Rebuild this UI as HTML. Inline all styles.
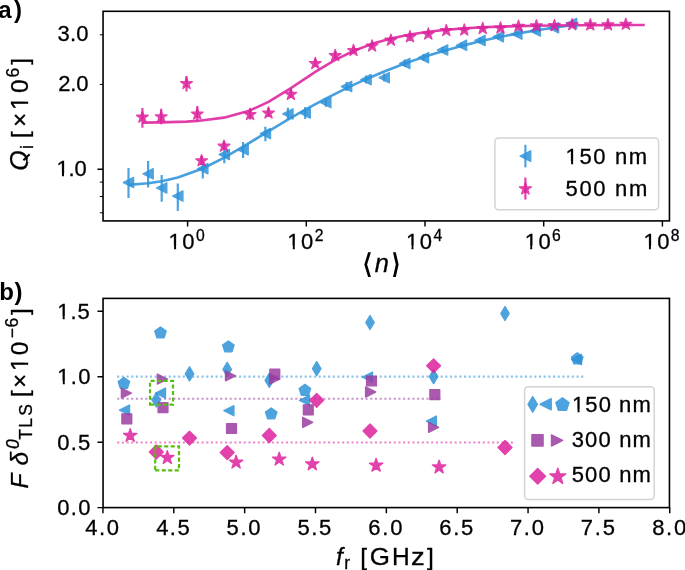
<!DOCTYPE html>
<html><head><meta charset="utf-8"><style>
html,body{margin:0;padding:0;background:#fff;}
svg{display:block;}
</style></head><body><div style="will-change:transform">
<svg width="685" height="570" viewBox="0 0 685 570">
<rect width="685" height="570" fill="#fff"/>
<defs><clipPath id="ca"><rect x="103.05" y="11.3" width="566.4" height="209.6"/></clipPath><clipPath id="cb"><rect x="103.05" y="298.4" width="566.4" height="209.2"/></clipPath></defs>
<g clip-path="url(#ca)">
<path d="M128.5 184.9 L148.1 183.2 L161.7 181.19 L177.8 177.54 L202.8 168.5 L224.3 157.66 L243.1 146.74 L265.4 133.17 L287.9 119.65 L305.2 109.7 L325.8 98.55 L346.6 88.12 L366 79.18 L384.2 71.49 L404.8 63.58 L423.5 57.11 L442.6 51.16 L461.5 45.9 L480 41.3 L498.3 37.26 L516.8 33.63 L535.3 30.44 L553.5 27.67 L571.6 25.25 L576.5 24.65" fill="none" stroke="#2f93d9" stroke-width="2.6" stroke-opacity="0.88" stroke-linejoin="round"/>
<path d="M142.4 122.66 L161.2 122.4 L186.5 121.58 L197.3 120.92 L201.6 120.57 L224 117.65 L250.1 110.41 L268.5 101.86 L290.9 88.1 L315.3 71.83 L335.2 59.93 L353.5 50.96 L372.1 43.84 L390.9 38.44 L410 34.45 L428.3 31.69 L446.3 29.74 L464.3 28.33 L482.7 27.31 L500.5 26.61 L518.5 26.11 L536.4 25.75 L554.4 25.5 L572.2 25.32 L590.3 25.19 L607.9 25.1 L625.8 25.04 L644.8 24.99" fill="none" stroke="#dd229d" stroke-width="2.6" stroke-opacity="0.88" stroke-linejoin="round"/>
<line x1="128.5" y1="168.1" x2="128.5" y2="197.9" stroke="#2f93d9" stroke-width="2.2" stroke-opacity="0.85"/>
<polygon points="123.4,182.5 133.6,177.4 133.6,187.6" fill="#2f93d9" stroke="#2f93d9" stroke-width="1.4" stroke-linejoin="round" opacity="0.85"/>
<line x1="148.1" y1="160.9" x2="148.1" y2="187.4" stroke="#2f93d9" stroke-width="2.2" stroke-opacity="0.85"/>
<polygon points="143,173.8 153.2,168.7 153.2,178.9" fill="#2f93d9" stroke="#2f93d9" stroke-width="1.4" stroke-linejoin="round" opacity="0.85"/>
<line x1="161.7" y1="175.1" x2="161.7" y2="201.7" stroke="#2f93d9" stroke-width="2.2" stroke-opacity="0.85"/>
<polygon points="156.6,187.9 166.8,182.8 166.8,193" fill="#2f93d9" stroke="#2f93d9" stroke-width="1.4" stroke-linejoin="round" opacity="0.85"/>
<line x1="177.8" y1="183.4" x2="177.8" y2="211" stroke="#2f93d9" stroke-width="2.2" stroke-opacity="0.85"/>
<polygon points="172.7,196.1 182.9,191 182.9,201.2" fill="#2f93d9" stroke="#2f93d9" stroke-width="1.4" stroke-linejoin="round" opacity="0.85"/>
<line x1="202.8" y1="162.9" x2="202.8" y2="178.6" stroke="#2f93d9" stroke-width="2.2" stroke-opacity="0.85"/>
<polygon points="197.7,168.7 207.9,163.6 207.9,173.8" fill="#2f93d9" stroke="#2f93d9" stroke-width="1.4" stroke-linejoin="round" opacity="0.85"/>
<line x1="224.3" y1="147.6" x2="224.3" y2="163.3" stroke="#2f93d9" stroke-width="2.2" stroke-opacity="0.85"/>
<polygon points="219.2,154.5 229.4,149.4 229.4,159.6" fill="#2f93d9" stroke="#2f93d9" stroke-width="1.4" stroke-linejoin="round" opacity="0.85"/>
<line x1="243.1" y1="141.9" x2="243.1" y2="158" stroke="#2f93d9" stroke-width="2.2" stroke-opacity="0.85"/>
<polygon points="238,149.8 248.2,144.7 248.2,154.9" fill="#2f93d9" stroke="#2f93d9" stroke-width="1.4" stroke-linejoin="round" opacity="0.85"/>
<line x1="265.4" y1="126.7" x2="265.4" y2="141.3" stroke="#2f93d9" stroke-width="2.2" stroke-opacity="0.85"/>
<polygon points="260.3,133.6 270.5,128.5 270.5,138.7" fill="#2f93d9" stroke="#2f93d9" stroke-width="1.4" stroke-linejoin="round" opacity="0.85"/>
<line x1="287.9" y1="107.7" x2="287.9" y2="120.1" stroke="#2f93d9" stroke-width="2.2" stroke-opacity="0.85"/>
<polygon points="282.8,113.9 293,108.8 293,119" fill="#2f93d9" stroke="#2f93d9" stroke-width="1.4" stroke-linejoin="round" opacity="0.85"/>
<line x1="305.2" y1="107" x2="305.2" y2="119" stroke="#2f93d9" stroke-width="2.2" stroke-opacity="0.85"/>
<polygon points="300.1,113 310.3,107.9 310.3,118.1" fill="#2f93d9" stroke="#2f93d9" stroke-width="1.4" stroke-linejoin="round" opacity="0.85"/>
<line x1="325.8" y1="98.2" x2="325.8" y2="106.7" stroke="#2f93d9" stroke-width="2.2" stroke-opacity="0.85"/>
<polygon points="320.7,102.6 330.9,97.5 330.9,107.7" fill="#2f93d9" stroke="#2f93d9" stroke-width="1.4" stroke-linejoin="round" opacity="0.85"/>
<line x1="346.6" y1="82" x2="346.6" y2="91" stroke="#2f93d9" stroke-width="2.2" stroke-opacity="0.85"/>
<polygon points="341.5,86.5 351.7,81.4 351.7,91.6" fill="#2f93d9" stroke="#2f93d9" stroke-width="1.4" stroke-linejoin="round" opacity="0.85"/>
<line x1="366" y1="75.5" x2="366" y2="83.5" stroke="#2f93d9" stroke-width="2.2" stroke-opacity="0.85"/>
<polygon points="360.9,79.6 371.1,74.5 371.1,84.7" fill="#2f93d9" stroke="#2f93d9" stroke-width="1.4" stroke-linejoin="round" opacity="0.85"/>
<line x1="384.2" y1="73.5" x2="384.2" y2="81.5" stroke="#2f93d9" stroke-width="2.2" stroke-opacity="0.85"/>
<polygon points="379.1,77.7 389.3,72.6 389.3,82.8" fill="#2f93d9" stroke="#2f93d9" stroke-width="1.4" stroke-linejoin="round" opacity="0.85"/>
<line x1="404.8" y1="59.5" x2="404.8" y2="67" stroke="#2f93d9" stroke-width="2.2" stroke-opacity="0.85"/>
<polygon points="399.7,63.4 409.9,58.3 409.9,68.5" fill="#2f93d9" stroke="#2f93d9" stroke-width="1.4" stroke-linejoin="round" opacity="0.85"/>
<line x1="423.5" y1="54" x2="423.5" y2="61" stroke="#2f93d9" stroke-width="2.2" stroke-opacity="0.85"/>
<polygon points="418.4,57.7 428.6,52.6 428.6,62.8" fill="#2f93d9" stroke="#2f93d9" stroke-width="1.4" stroke-linejoin="round" opacity="0.85"/>
<line x1="442.6" y1="47" x2="442.6" y2="53" stroke="#2f93d9" stroke-width="2.2" stroke-opacity="0.85"/>
<polygon points="437.5,50 447.7,44.9 447.7,55.1" fill="#2f93d9" stroke="#2f93d9" stroke-width="1.4" stroke-linejoin="round" opacity="0.85"/>
<line x1="461.5" y1="42.5" x2="461.5" y2="48" stroke="#2f93d9" stroke-width="2.2" stroke-opacity="0.85"/>
<polygon points="456.4,45.3 466.6,40.2 466.6,50.4" fill="#2f93d9" stroke="#2f93d9" stroke-width="1.4" stroke-linejoin="round" opacity="0.85"/>
<line x1="480" y1="37.5" x2="480" y2="43.5" stroke="#2f93d9" stroke-width="2.2" stroke-opacity="0.85"/>
<polygon points="474.9,40.5 485.1,35.4 485.1,45.6" fill="#2f93d9" stroke="#2f93d9" stroke-width="1.4" stroke-linejoin="round" opacity="0.85"/>
<line x1="498.3" y1="34" x2="498.3" y2="39.5" stroke="#2f93d9" stroke-width="2.2" stroke-opacity="0.85"/>
<polygon points="493.2,36.7 503.4,31.6 503.4,41.8" fill="#2f93d9" stroke="#2f93d9" stroke-width="1.4" stroke-linejoin="round" opacity="0.85"/>
<line x1="516.8" y1="31.5" x2="516.8" y2="36.5" stroke="#2f93d9" stroke-width="2.2" stroke-opacity="0.85"/>
<polygon points="511.7,34.1 521.9,29 521.9,39.2" fill="#2f93d9" stroke="#2f93d9" stroke-width="1.4" stroke-linejoin="round" opacity="0.85"/>
<line x1="535.3" y1="28.5" x2="535.3" y2="33.5" stroke="#2f93d9" stroke-width="2.2" stroke-opacity="0.85"/>
<polygon points="530.2,31 540.4,25.9 540.4,36.1" fill="#2f93d9" stroke="#2f93d9" stroke-width="1.4" stroke-linejoin="round" opacity="0.85"/>
<line x1="553.5" y1="25.5" x2="553.5" y2="30" stroke="#2f93d9" stroke-width="2.2" stroke-opacity="0.85"/>
<polygon points="548.4,27.8 558.6,22.7 558.6,32.9" fill="#2f93d9" stroke="#2f93d9" stroke-width="1.4" stroke-linejoin="round" opacity="0.85"/>
<line x1="571.6" y1="21.5" x2="571.6" y2="25.5" stroke="#2f93d9" stroke-width="2.2" stroke-opacity="0.85"/>
<polygon points="566.5,23.5 576.7,18.4 576.7,28.6" fill="#2f93d9" stroke="#2f93d9" stroke-width="1.4" stroke-linejoin="round" opacity="0.85"/>
<line x1="142.4" y1="108" x2="142.4" y2="127.8" stroke="#dd229d" stroke-width="2.2" stroke-opacity="0.85"/>
<polygon points="142.4,111.1 141.03,115.31 136.6,115.31 140.18,117.92 138.81,122.14 142.4,119.53 145.99,122.14 144.62,117.92 148.2,115.31 143.77,115.31" fill="#dd229d" stroke="#dd229d" stroke-width="1.4" stroke-linejoin="round" opacity="0.85"/>
<line x1="161.2" y1="108.8" x2="161.2" y2="124.3" stroke="#dd229d" stroke-width="2.2" stroke-opacity="0.85"/>
<polygon points="161.2,110.7 159.83,114.91 155.4,114.91 158.98,117.52 157.61,121.74 161.2,119.13 164.79,121.74 163.42,117.52 167,114.91 162.57,114.91" fill="#dd229d" stroke="#dd229d" stroke-width="1.4" stroke-linejoin="round" opacity="0.85"/>
<line x1="186.5" y1="75.9" x2="186.5" y2="91.5" stroke="#dd229d" stroke-width="2.2" stroke-opacity="0.85"/>
<polygon points="186.5,77.5 185.13,81.71 180.7,81.71 184.28,84.32 182.91,88.54 186.5,85.93 190.09,88.54 188.72,84.32 192.3,81.71 187.87,81.71" fill="#dd229d" stroke="#dd229d" stroke-width="1.4" stroke-linejoin="round" opacity="0.85"/>
<line x1="197.3" y1="106" x2="197.3" y2="120.7" stroke="#dd229d" stroke-width="2.2" stroke-opacity="0.85"/>
<polygon points="197.3,108 195.93,112.21 191.5,112.21 195.08,114.82 193.71,119.04 197.3,116.43 200.89,119.04 199.52,114.82 203.1,112.21 198.67,112.21" fill="#dd229d" stroke="#dd229d" stroke-width="1.4" stroke-linejoin="round" opacity="0.85"/>
<line x1="201.6" y1="156" x2="201.6" y2="164.5" stroke="#dd229d" stroke-width="2.2" stroke-opacity="0.85"/>
<polygon points="201.6,154.7 200.23,158.91 195.8,158.91 199.38,161.52 198.01,165.74 201.6,163.13 205.19,165.74 203.82,161.52 207.4,158.91 202.97,158.91" fill="#dd229d" stroke="#dd229d" stroke-width="1.4" stroke-linejoin="round" opacity="0.85"/>
<line x1="224" y1="141.5" x2="224" y2="149.5" stroke="#dd229d" stroke-width="2.2" stroke-opacity="0.85"/>
<polygon points="224,140.1 222.63,144.31 218.2,144.31 221.78,146.92 220.41,151.14 224,148.53 227.59,151.14 226.22,146.92 229.8,144.31 225.37,144.31" fill="#dd229d" stroke="#dd229d" stroke-width="1.4" stroke-linejoin="round" opacity="0.85"/>
<line x1="250.1" y1="108.5" x2="250.1" y2="119.5" stroke="#dd229d" stroke-width="2.2" stroke-opacity="0.85"/>
<polygon points="250.1,108.5 248.73,112.71 244.3,112.71 247.88,115.32 246.51,119.54 250.1,116.93 253.69,119.54 252.32,115.32 255.9,112.71 251.47,112.71" fill="#dd229d" stroke="#dd229d" stroke-width="1.4" stroke-linejoin="round" opacity="0.85"/>
<line x1="268.5" y1="108" x2="268.5" y2="117" stroke="#dd229d" stroke-width="2.2" stroke-opacity="0.85"/>
<polygon points="268.5,107 267.13,111.21 262.7,111.21 266.28,113.82 264.91,118.04 268.5,115.43 272.09,118.04 270.72,113.82 274.3,111.21 269.87,111.21" fill="#dd229d" stroke="#dd229d" stroke-width="1.4" stroke-linejoin="round" opacity="0.85"/>
<line x1="290.9" y1="89.5" x2="290.9" y2="98" stroke="#dd229d" stroke-width="2.2" stroke-opacity="0.85"/>
<polygon points="290.9,88.3 289.53,92.51 285.1,92.51 288.68,95.12 287.31,99.34 290.9,96.73 294.49,99.34 293.12,95.12 296.7,92.51 292.27,92.51" fill="#dd229d" stroke="#dd229d" stroke-width="1.4" stroke-linejoin="round" opacity="0.85"/>
<line x1="315.3" y1="59" x2="315.3" y2="66.5" stroke="#dd229d" stroke-width="2.2" stroke-opacity="0.85"/>
<polygon points="315.3,57.4 313.93,61.61 309.5,61.61 313.08,64.22 311.71,68.44 315.3,65.83 318.89,68.44 317.52,64.22 321.1,61.61 316.67,61.61" fill="#dd229d" stroke="#dd229d" stroke-width="1.4" stroke-linejoin="round" opacity="0.85"/>
<line x1="335.2" y1="51.5" x2="335.2" y2="58.5" stroke="#dd229d" stroke-width="2.2" stroke-opacity="0.85"/>
<polygon points="335.2,49.5 333.83,53.71 329.4,53.71 332.98,56.32 331.61,60.54 335.2,57.93 338.79,60.54 337.42,56.32 341,53.71 336.57,53.71" fill="#dd229d" stroke="#dd229d" stroke-width="1.4" stroke-linejoin="round" opacity="0.85"/>
<line x1="353.5" y1="47" x2="353.5" y2="53" stroke="#dd229d" stroke-width="2.2" stroke-opacity="0.85"/>
<polygon points="353.5,44.4 352.13,48.61 347.7,48.61 351.28,51.22 349.91,55.44 353.5,52.83 357.09,55.44 355.72,51.22 359.3,48.61 354.87,48.61" fill="#dd229d" stroke="#dd229d" stroke-width="1.4" stroke-linejoin="round" opacity="0.85"/>
<line x1="372.1" y1="42.5" x2="372.1" y2="48" stroke="#dd229d" stroke-width="2.2" stroke-opacity="0.85"/>
<polygon points="372.1,39.9 370.73,44.11 366.3,44.11 369.88,46.72 368.51,50.94 372.1,48.33 375.69,50.94 374.32,46.72 377.9,44.11 373.47,44.11" fill="#dd229d" stroke="#dd229d" stroke-width="1.4" stroke-linejoin="round" opacity="0.85"/>
<line x1="390.9" y1="37" x2="390.9" y2="42" stroke="#dd229d" stroke-width="2.2" stroke-opacity="0.85"/>
<polygon points="390.9,34.1 389.53,38.31 385.1,38.31 388.68,40.92 387.31,45.14 390.9,42.53 394.49,45.14 393.12,40.92 396.7,38.31 392.27,38.31" fill="#dd229d" stroke="#dd229d" stroke-width="1.4" stroke-linejoin="round" opacity="0.85"/>
<line x1="410" y1="34" x2="410" y2="38.5" stroke="#dd229d" stroke-width="2.2" stroke-opacity="0.85"/>
<polygon points="410,30.7 408.63,34.91 404.2,34.91 407.78,37.52 406.41,41.74 410,39.13 413.59,41.74 412.22,37.52 415.8,34.91 411.37,34.91" fill="#dd229d" stroke="#dd229d" stroke-width="1.4" stroke-linejoin="round" opacity="0.85"/>
<line x1="428.3" y1="31.5" x2="428.3" y2="35.5" stroke="#dd229d" stroke-width="2.2" stroke-opacity="0.85"/>
<polygon points="428.3,28 426.93,32.21 422.5,32.21 426.08,34.82 424.71,39.04 428.3,36.43 431.89,39.04 430.52,34.82 434.1,32.21 429.67,32.21" fill="#dd229d" stroke="#dd229d" stroke-width="1.4" stroke-linejoin="round" opacity="0.85"/>
<line x1="446.3" y1="28" x2="446.3" y2="32" stroke="#dd229d" stroke-width="2.2" stroke-opacity="0.85"/>
<polygon points="446.3,24.5 444.93,28.71 440.5,28.71 444.08,31.32 442.71,35.54 446.3,32.93 449.89,35.54 448.52,31.32 452.1,28.71 447.67,28.71" fill="#dd229d" stroke="#dd229d" stroke-width="1.4" stroke-linejoin="round" opacity="0.85"/>
<line x1="464.3" y1="27.5" x2="464.3" y2="31.5" stroke="#dd229d" stroke-width="2.2" stroke-opacity="0.85"/>
<polygon points="464.3,23.9 462.93,28.11 458.5,28.11 462.08,30.72 460.71,34.94 464.3,32.33 467.89,34.94 466.52,30.72 470.1,28.11 465.67,28.11" fill="#dd229d" stroke="#dd229d" stroke-width="1.4" stroke-linejoin="round" opacity="0.85"/>
<line x1="482.7" y1="26" x2="482.7" y2="30" stroke="#dd229d" stroke-width="2.2" stroke-opacity="0.85"/>
<polygon points="482.7,22.5 481.33,26.71 476.9,26.71 480.48,29.32 479.11,33.54 482.7,30.93 486.29,33.54 484.92,29.32 488.5,26.71 484.07,26.71" fill="#dd229d" stroke="#dd229d" stroke-width="1.4" stroke-linejoin="round" opacity="0.85"/>
<line x1="500.5" y1="25.5" x2="500.5" y2="29.5" stroke="#dd229d" stroke-width="2.2" stroke-opacity="0.85"/>
<polygon points="500.5,21.9 499.13,26.11 494.7,26.11 498.28,28.72 496.91,32.94 500.5,30.33 504.09,32.94 502.72,28.72 506.3,26.11 501.87,26.11" fill="#dd229d" stroke="#dd229d" stroke-width="1.4" stroke-linejoin="round" opacity="0.85"/>
<line x1="518.5" y1="24" x2="518.5" y2="27.5" stroke="#dd229d" stroke-width="2.2" stroke-opacity="0.85"/>
<polygon points="518.5,20.2 517.13,24.41 512.7,24.41 516.28,27.02 514.91,31.24 518.5,28.63 522.09,31.24 520.72,27.02 524.3,24.41 519.87,24.41" fill="#dd229d" stroke="#dd229d" stroke-width="1.4" stroke-linejoin="round" opacity="0.85"/>
<line x1="536.4" y1="23.5" x2="536.4" y2="27" stroke="#dd229d" stroke-width="2.2" stroke-opacity="0.85"/>
<polygon points="536.4,19.8 535.03,24.01 530.6,24.01 534.18,26.62 532.81,30.84 536.4,28.23 539.99,30.84 538.62,26.62 542.2,24.01 537.77,24.01" fill="#dd229d" stroke="#dd229d" stroke-width="1.4" stroke-linejoin="round" opacity="0.85"/>
<line x1="554.4" y1="23.5" x2="554.4" y2="27" stroke="#dd229d" stroke-width="2.2" stroke-opacity="0.85"/>
<polygon points="554.4,19.6 553.03,23.81 548.6,23.81 552.18,26.42 550.81,30.64 554.4,28.03 557.99,30.64 556.62,26.42 560.2,23.81 555.77,23.81" fill="#dd229d" stroke="#dd229d" stroke-width="1.4" stroke-linejoin="round" opacity="0.85"/>
<line x1="572.2" y1="22.5" x2="572.2" y2="26" stroke="#dd229d" stroke-width="2.2" stroke-opacity="0.85"/>
<polygon points="572.2,18.6 570.83,22.81 566.4,22.81 569.98,25.42 568.61,29.64 572.2,27.03 575.79,29.64 574.42,25.42 578,22.81 573.57,22.81" fill="#dd229d" stroke="#dd229d" stroke-width="1.4" stroke-linejoin="round" opacity="0.85"/>
<line x1="590.3" y1="22.5" x2="590.3" y2="26" stroke="#dd229d" stroke-width="2.2" stroke-opacity="0.85"/>
<polygon points="590.3,18.8 588.93,23.01 584.5,23.01 588.08,25.62 586.71,29.84 590.3,27.23 593.89,29.84 592.52,25.62 596.1,23.01 591.67,23.01" fill="#dd229d" stroke="#dd229d" stroke-width="1.4" stroke-linejoin="round" opacity="0.85"/>
<line x1="607.9" y1="22.5" x2="607.9" y2="26" stroke="#dd229d" stroke-width="2.2" stroke-opacity="0.85"/>
<polygon points="607.9,18.7 606.53,22.91 602.1,22.91 605.68,25.52 604.31,29.74 607.9,27.13 611.49,29.74 610.12,25.52 613.7,22.91 609.27,22.91" fill="#dd229d" stroke="#dd229d" stroke-width="1.4" stroke-linejoin="round" opacity="0.85"/>
<line x1="625.8" y1="22" x2="625.8" y2="25.5" stroke="#dd229d" stroke-width="2.2" stroke-opacity="0.85"/>
<polygon points="625.8,18.2 624.43,22.41 620,22.41 623.58,25.02 622.21,29.24 625.8,26.63 629.39,29.24 628.02,25.02 631.6,22.41 627.17,22.41" fill="#dd229d" stroke="#dd229d" stroke-width="1.4" stroke-linejoin="round" opacity="0.85"/>
</g>
<rect x="494.9" y="138.1" width="163.7" height="71.6" rx="3.6" ry="3.6" fill="#fff" fill-opacity="0.8" stroke="#d4d4d4" stroke-width="1.5"/>
<line x1="525.4" y1="144.8" x2="525.4" y2="167.4" stroke="#2f93d9" stroke-width="2.2" stroke-opacity="0.85"/>
<polygon points="520.1,156.1 530.7,150.8 530.7,161.4" fill="#2f93d9" stroke="#2f93d9" stroke-width="1.4" stroke-linejoin="round" opacity="0.85"/>
<line x1="525.4" y1="177.5" x2="525.4" y2="199.6" stroke="#dd229d" stroke-width="2.2" stroke-opacity="0.85"/>
<polygon points="525.4,182.5 523.99,186.85 519.41,186.85 523.11,189.54 521.7,193.9 525.4,191.21 529.1,193.9 527.69,189.54 531.39,186.85 526.81,186.85" fill="#dd229d" stroke="#dd229d" stroke-width="1.4" stroke-linejoin="round" opacity="0.85"/>
<rect x="103.05" y="11.3" width="566.4" height="209.6" fill="none" stroke="#000" stroke-width="1.6"/>
<path d="M187.6 220.9 V226.5 M306.3 220.9 V226.5 M425 220.9 V226.5 M543.7 220.9 V226.5 M662.4 220.9 V226.5 M103.05 169.2 H97.45" stroke="#000" stroke-width="1.45" fill="none"/>
<path d="M103.05 212.84 H99.85 M103.05 196.5 H99.85 M103.05 182.09 H99.85 M103.05 84.4 H99.85 M103.05 34.79 H99.85" stroke="#000" stroke-width="1.0" fill="none"/>
<g clip-path="url(#cb)">
<line x1="117.15" y1="376.65" x2="583.5" y2="376.65" stroke="#2f93d9" stroke-width="2.1" stroke-dasharray="2.1 2.587" stroke-opacity="0.55"/>
<line x1="117.15" y1="398.8" x2="441" y2="398.8" stroke="#9b3da0" stroke-width="2.1" stroke-dasharray="2.1 2.587" stroke-opacity="0.55"/>
<line x1="117.15" y1="442.5" x2="513.5" y2="442.5" stroke="#dd229d" stroke-width="2.1" stroke-dasharray="2.1 2.587" stroke-opacity="0.55"/>
<polygon points="156.3,392.9 160.5,399.9 156.3,406.9 152.1,399.9" fill="#2f93d9" stroke="#2f93d9" stroke-width="1.4" stroke-linejoin="round" opacity="0.85"/>
<polygon points="189.5,366.8 193.7,373.8 189.5,380.8 185.3,373.8" fill="#2f93d9" stroke="#2f93d9" stroke-width="1.4" stroke-linejoin="round" opacity="0.85"/>
<polygon points="227.2,362.4 231.4,369.4 227.2,376.4 223,369.4" fill="#2f93d9" stroke="#2f93d9" stroke-width="1.4" stroke-linejoin="round" opacity="0.85"/>
<polygon points="269.3,373.3 273.5,380.3 269.3,387.3 265.1,380.3" fill="#2f93d9" stroke="#2f93d9" stroke-width="1.4" stroke-linejoin="round" opacity="0.85"/>
<polygon points="316.7,361.7 320.9,368.7 316.7,375.7 312.5,368.7" fill="#2f93d9" stroke="#2f93d9" stroke-width="1.4" stroke-linejoin="round" opacity="0.85"/>
<polygon points="370,315.5 374.2,322.5 370,329.5 365.8,322.5" fill="#2f93d9" stroke="#2f93d9" stroke-width="1.4" stroke-linejoin="round" opacity="0.85"/>
<polygon points="433.6,369.6 437.8,376.6 433.6,383.6 429.4,376.6" fill="#2f93d9" stroke="#2f93d9" stroke-width="1.4" stroke-linejoin="round" opacity="0.85"/>
<polygon points="505,306.5 509.2,313.5 505,320.5 500.8,313.5" fill="#2f93d9" stroke="#2f93d9" stroke-width="1.4" stroke-linejoin="round" opacity="0.85"/>
<polygon points="119.5,410.1 129.5,405.1 129.5,415.1" fill="#2f93d9" stroke="#2f93d9" stroke-width="1.4" stroke-linejoin="round" opacity="0.85"/>
<polygon points="155.5,393.1 165.5,388.1 165.5,398.1" fill="#2f93d9" stroke="#2f93d9" stroke-width="1.4" stroke-linejoin="round" opacity="0.85"/>
<polygon points="223.9,410.7 233.9,405.7 233.9,415.7" fill="#2f93d9" stroke="#2f93d9" stroke-width="1.4" stroke-linejoin="round" opacity="0.85"/>
<polygon points="299.5,400.3 309.5,395.3 309.5,405.3" fill="#2f93d9" stroke="#2f93d9" stroke-width="1.4" stroke-linejoin="round" opacity="0.85"/>
<polygon points="362.5,377.2 372.5,372.2 372.5,382.2" fill="#2f93d9" stroke="#2f93d9" stroke-width="1.4" stroke-linejoin="round" opacity="0.85"/>
<polygon points="426.4,421.1 436.4,416.1 436.4,426.1" fill="#2f93d9" stroke="#2f93d9" stroke-width="1.4" stroke-linejoin="round" opacity="0.85"/>
<polygon points="571.5,359.5 581.5,354.5 581.5,364.5" fill="#2f93d9" stroke="#2f93d9" stroke-width="1.4" stroke-linejoin="round" opacity="0.85"/>
<polygon points="123.9,377.5 118.19,381.65 120.37,388.35 127.43,388.35 129.61,381.65" fill="#2f93d9" stroke="#2f93d9" stroke-width="1.4" stroke-linejoin="round" opacity="0.85"/>
<polygon points="160.5,327 154.79,331.15 156.97,337.85 164.03,337.85 166.21,331.15" fill="#2f93d9" stroke="#2f93d9" stroke-width="1.4" stroke-linejoin="round" opacity="0.85"/>
<polygon points="228.4,341 222.69,345.15 224.87,351.85 231.93,351.85 234.11,345.15" fill="#2f93d9" stroke="#2f93d9" stroke-width="1.4" stroke-linejoin="round" opacity="0.85"/>
<polygon points="271.2,408 265.49,412.15 267.67,418.85 274.73,418.85 276.91,412.15" fill="#2f93d9" stroke="#2f93d9" stroke-width="1.4" stroke-linejoin="round" opacity="0.85"/>
<polygon points="304.9,384.4 299.19,388.55 301.37,395.25 308.43,395.25 310.61,388.55" fill="#2f93d9" stroke="#2f93d9" stroke-width="1.4" stroke-linejoin="round" opacity="0.85"/>
<polygon points="577.3,352.9 571.59,357.05 573.77,363.75 580.83,363.75 583.01,357.05" fill="#2f93d9" stroke="#2f93d9" stroke-width="1.4" stroke-linejoin="round" opacity="0.85"/>
<polygon points="121.9,413.9 131.7,413.9 131.7,423.7 121.9,423.7" fill="#9b3da0" stroke="#9b3da0" stroke-width="1.4" stroke-linejoin="round" opacity="0.85"/>
<polygon points="158.1,402.7 167.9,402.7 167.9,412.5 158.1,412.5" fill="#9b3da0" stroke="#9b3da0" stroke-width="1.4" stroke-linejoin="round" opacity="0.85"/>
<polygon points="226.6,423.6 236.4,423.6 236.4,433.4 226.6,433.4" fill="#9b3da0" stroke="#9b3da0" stroke-width="1.4" stroke-linejoin="round" opacity="0.85"/>
<polygon points="269.9,369.3 279.7,369.3 279.7,379.1 269.9,379.1" fill="#9b3da0" stroke="#9b3da0" stroke-width="1.4" stroke-linejoin="round" opacity="0.85"/>
<polygon points="303.4,404.9 313.2,404.9 313.2,414.7 303.4,414.7" fill="#9b3da0" stroke="#9b3da0" stroke-width="1.4" stroke-linejoin="round" opacity="0.85"/>
<polygon points="366.6,376.1 376.4,376.1 376.4,385.9 366.6,385.9" fill="#9b3da0" stroke="#9b3da0" stroke-width="1.4" stroke-linejoin="round" opacity="0.85"/>
<polygon points="429.9,389.8 439.7,389.8 439.7,399.6 429.9,399.6" fill="#9b3da0" stroke="#9b3da0" stroke-width="1.4" stroke-linejoin="round" opacity="0.85"/>
<polygon points="131.4,393.1 121.4,388.1 121.4,398.1" fill="#9b3da0" stroke="#9b3da0" stroke-width="1.4" stroke-linejoin="round" opacity="0.85"/>
<polygon points="167.4,379.1 157.4,374.1 157.4,384.1" fill="#9b3da0" stroke="#9b3da0" stroke-width="1.4" stroke-linejoin="round" opacity="0.85"/>
<polygon points="235.5,375.8 225.5,370.8 225.5,380.8" fill="#9b3da0" stroke="#9b3da0" stroke-width="1.4" stroke-linejoin="round" opacity="0.85"/>
<polygon points="279.6,379 269.6,374 269.6,384" fill="#9b3da0" stroke="#9b3da0" stroke-width="1.4" stroke-linejoin="round" opacity="0.85"/>
<polygon points="312.7,422.4 302.7,417.4 302.7,427.4" fill="#9b3da0" stroke="#9b3da0" stroke-width="1.4" stroke-linejoin="round" opacity="0.85"/>
<polygon points="375.6,392 365.6,387 365.6,397" fill="#9b3da0" stroke="#9b3da0" stroke-width="1.4" stroke-linejoin="round" opacity="0.85"/>
<polygon points="438.6,427.3 428.6,422.3 428.6,432.3" fill="#9b3da0" stroke="#9b3da0" stroke-width="1.4" stroke-linejoin="round" opacity="0.85"/>
<polygon points="156.3,445.1 163.2,452 156.3,458.9 149.4,452" fill="#dd229d" stroke="#dd229d" stroke-width="1.4" stroke-linejoin="round" opacity="0.85"/>
<polygon points="189.5,431.2 196.4,438.1 189.5,445 182.6,438.1" fill="#dd229d" stroke="#dd229d" stroke-width="1.4" stroke-linejoin="round" opacity="0.85"/>
<polygon points="227.2,445.7 234.1,452.6 227.2,459.5 220.3,452.6" fill="#dd229d" stroke="#dd229d" stroke-width="1.4" stroke-linejoin="round" opacity="0.85"/>
<polygon points="269.3,428.6 276.2,435.5 269.3,442.4 262.4,435.5" fill="#dd229d" stroke="#dd229d" stroke-width="1.4" stroke-linejoin="round" opacity="0.85"/>
<polygon points="316.7,393.4 323.6,400.3 316.7,407.2 309.8,400.3" fill="#dd229d" stroke="#dd229d" stroke-width="1.4" stroke-linejoin="round" opacity="0.85"/>
<polygon points="370,424.1 376.9,431 370,437.9 363.1,431" fill="#dd229d" stroke="#dd229d" stroke-width="1.4" stroke-linejoin="round" opacity="0.85"/>
<polygon points="433.6,358.9 440.5,365.8 433.6,372.7 426.7,365.8" fill="#dd229d" stroke="#dd229d" stroke-width="1.4" stroke-linejoin="round" opacity="0.85"/>
<polygon points="505,440.6 511.9,447.5 505,454.4 498.1,447.5" fill="#dd229d" stroke="#dd229d" stroke-width="1.4" stroke-linejoin="round" opacity="0.85"/>
<polygon points="130.2,428.6 128.63,433.44 123.54,433.44 127.66,436.43 126.09,441.26 130.2,438.27 134.31,441.26 132.74,436.43 136.86,433.44 131.77,433.44" fill="#dd229d" stroke="#dd229d" stroke-width="1.4" stroke-linejoin="round" opacity="0.85"/>
<polygon points="167.3,450.7 165.73,455.54 160.64,455.54 164.76,458.53 163.19,463.36 167.3,460.37 171.41,463.36 169.84,458.53 173.96,455.54 168.87,455.54" fill="#dd229d" stroke="#dd229d" stroke-width="1.4" stroke-linejoin="round" opacity="0.85"/>
<polygon points="236.1,455.3 234.53,460.14 229.44,460.14 233.56,463.13 231.99,467.96 236.1,464.97 240.21,467.96 238.64,463.13 242.76,460.14 237.67,460.14" fill="#dd229d" stroke="#dd229d" stroke-width="1.4" stroke-linejoin="round" opacity="0.85"/>
<polygon points="279.2,452.3 277.63,457.14 272.54,457.14 276.66,460.13 275.09,464.96 279.2,461.97 283.31,464.96 281.74,460.13 285.86,457.14 280.77,457.14" fill="#dd229d" stroke="#dd229d" stroke-width="1.4" stroke-linejoin="round" opacity="0.85"/>
<polygon points="312.3,457.1 310.73,461.94 305.64,461.94 309.76,464.93 308.19,469.76 312.3,466.77 316.41,469.76 314.84,464.93 318.96,461.94 313.87,461.94" fill="#dd229d" stroke="#dd229d" stroke-width="1.4" stroke-linejoin="round" opacity="0.85"/>
<polygon points="376.1,458.4 374.53,463.24 369.44,463.24 373.56,466.23 371.99,471.06 376.1,468.07 380.21,471.06 378.64,466.23 382.76,463.24 377.67,463.24" fill="#dd229d" stroke="#dd229d" stroke-width="1.4" stroke-linejoin="round" opacity="0.85"/>
<polygon points="439.1,460.2 437.53,465.04 432.44,465.04 436.56,468.03 434.99,472.86 439.1,469.87 443.21,472.86 441.64,468.03 445.76,465.04 440.67,465.04" fill="#dd229d" stroke="#dd229d" stroke-width="1.4" stroke-linejoin="round" opacity="0.85"/>
<path d="M150 404.6 H173 V380.9 H150 Z" fill="none" stroke="#55c010" stroke-width="2.2" stroke-dasharray="4.1 2.4"/>
<path d="M155.2 470.4 H179 V446.4 H155.2 Z" fill="none" stroke="#55c010" stroke-width="2.2" stroke-dasharray="4.1 2.4"/>
</g>
<rect x="524.6" y="386.7" width="129.6" height="112.7" rx="3.6" ry="3.6" fill="#fff" fill-opacity="0.8" stroke="#d4d4d4" stroke-width="1.5"/>
<polygon points="532.7,396.6 537.4,404.4 532.7,412.2 528,404.4" fill="#2f93d9" stroke="#2f93d9" stroke-width="1.4" stroke-linejoin="round" opacity="0.85"/>
<polygon points="540.1,404.25 551.2,398.7 551.2,409.8" fill="#2f93d9" stroke="#2f93d9" stroke-width="1.4" stroke-linejoin="round" opacity="0.85"/>
<polygon points="562.45,397.7 555.89,402.47 558.39,410.18 566.51,410.18 569.01,402.47" fill="#2f93d9" stroke="#2f93d9" stroke-width="1.4" stroke-linejoin="round" opacity="0.85"/>
<polygon points="531.9,434.8 543.1,434.8 543.1,446 531.9,446" fill="#9b3da0" stroke="#9b3da0" stroke-width="1.4" stroke-linejoin="round" opacity="0.85"/>
<polygon points="562.6,440.45 551.5,434.9 551.5,446" fill="#9b3da0" stroke="#9b3da0" stroke-width="1.4" stroke-linejoin="round" opacity="0.85"/>
<polygon points="537.7,468.5 545.5,476.3 537.7,484.1 529.9,476.3" fill="#dd229d" stroke="#dd229d" stroke-width="1.4" stroke-linejoin="round" opacity="0.85"/>
<polygon points="557.8,468.2 555.91,474 549.81,474 554.75,477.59 552.86,483.4 557.8,479.81 562.74,483.4 560.85,477.59 565.79,474 559.69,474" fill="#dd229d" stroke="#dd229d" stroke-width="1.4" stroke-linejoin="round" opacity="0.85"/>
<rect x="103.05" y="298.4" width="566.4" height="209.2" fill="none" stroke="#000" stroke-width="1.6"/>
<path d="M102.95 507.6 V513.2 M173.8 507.6 V513.2 M244.65 507.6 V513.2 M315.5 507.6 V513.2 M386.35 507.6 V513.2 M457.2 507.6 V513.2 M528.05 507.6 V513.2 M598.9 507.6 V513.2 M669.75 507.6 V513.2 M103.05 507.6 H97.45 M103.05 442.17 H97.45 M103.05 376.73 H97.45 M103.05 311.3 H97.45" stroke="#000" stroke-width="1.45" fill="none"/>
<g font-family='"Liberation Sans", sans-serif' fill="#000" stroke="#000" stroke-width="0.3">
<text x="-1.7" y="17.9" font-size="24" font-weight="bold" stroke="none">a</text><text x="13.95" y="17.9" font-size="24" font-weight="bold" stroke="none">)</text>
<text x="-0.7" y="299.5" font-size="24" font-weight="bold" stroke="none">b</text><text x="14.45" y="299.5" font-size="24" font-weight="bold" stroke="none">)</text>
<text x="86.45" y="176.3" font-size="22" text-anchor="end" letter-spacing="-0.2">1.0</text>
<rect x="57.05" y="173.56" width="4.94" height="4.54" fill="#fff" stroke="none"/><rect x="63.97" y="173.56" width="4.76" height="4.54" fill="#fff" stroke="none"/>
<text x="88.23" y="91.3" font-size="22" text-anchor="end" letter-spacing="-0.21">2.0</text>

<text x="88.54" y="41.1" font-size="22" text-anchor="end" letter-spacing="0.11">3.0</text>

<text x="91.84" y="515" font-size="22" text-anchor="end" letter-spacing="1.33">0.0</text>

<text x="91.57" y="450" font-size="22" text-anchor="end" letter-spacing="1.24">0.5</text>

<text x="91.82" y="384" font-size="22" text-anchor="end" letter-spacing="1.31">1.0</text>
<rect x="57.87" y="381.26" width="4.94" height="4.54" fill="#fff" stroke="none"/><rect x="64.8" y="381.26" width="4.76" height="4.54" fill="#fff" stroke="none"/>
<text x="90.88" y="319" font-size="22" text-anchor="end" letter-spacing="1.04">1.5</text>
<rect x="57.76" y="316.26" width="4.94" height="4.54" fill="#fff" stroke="none"/><rect x="64.68" y="316.26" width="4.76" height="4.54" fill="#fff" stroke="none"/>
<text x="565.62" y="163.9" font-size="22" text-anchor="start" letter-spacing="1.64">150 nm</text>
<rect x="566.2" y="161.16" width="4.94" height="4.54" fill="#fff" stroke="none"/><rect x="573.12" y="161.16" width="4.76" height="4.54" fill="#fff" stroke="none"/>
<text x="565.47" y="195.8" font-size="22" text-anchor="start" letter-spacing="1.68">500 nm</text>

<text x="572.03" y="412.3" font-size="22" text-anchor="start" letter-spacing="1.07">150 nm</text>
<rect x="572.61" y="409.56" width="4.94" height="4.54" fill="#fff" stroke="none"/><rect x="579.53" y="409.56" width="4.76" height="4.54" fill="#fff" stroke="none"/>
<text x="571.7" y="447" font-size="22" text-anchor="start" letter-spacing="1.16">300 nm</text>

<text x="571.66" y="482" font-size="22" text-anchor="start" letter-spacing="1.17">500 nm</text>

<text x="102.85" y="534.9" font-size="22" text-anchor="middle" letter-spacing="1.47">4.0</text>

<text x="173.66" y="534.9" font-size="22" text-anchor="middle" letter-spacing="1.48">4.5</text>

<text x="244.3" y="534.9" font-size="22" text-anchor="middle" letter-spacing="1.61">5.0</text>

<text x="315.18" y="534.9" font-size="22" text-anchor="middle" letter-spacing="1.66">5.5</text>

<text x="386.27" y="534.9" font-size="22" text-anchor="middle" letter-spacing="1.84">6.0</text>

<text x="457.15" y="534.9" font-size="22" text-anchor="middle" letter-spacing="1.77">6.5</text>

<text x="527.78" y="534.9" font-size="22" text-anchor="middle" letter-spacing="1.71">7.0</text>

<text x="598.72" y="534.9" font-size="22" text-anchor="middle" letter-spacing="1.74">7.5</text>

<text x="670.04" y="534.9" font-size="22" text-anchor="middle" letter-spacing="1.74">8.0</text>

<text x="168.6" y="248.5" font-size="22" letter-spacing="1.5">10</text>
<rect x="169.18" y="245.76" width="4.94" height="4.54" fill="#fff" stroke="none"/><rect x="176.1" y="245.76" width="4.76" height="4.54" fill="#fff" stroke="none"/>
<text x="196" y="240.8" font-size="15.7">0</text>
<text x="287.3" y="248.5" font-size="22" letter-spacing="1.5">10</text>
<rect x="287.88" y="245.76" width="4.94" height="4.54" fill="#fff" stroke="none"/><rect x="294.8" y="245.76" width="4.76" height="4.54" fill="#fff" stroke="none"/>
<text x="314.7" y="240.8" font-size="15.7">2</text>
<text x="406" y="248.5" font-size="22" letter-spacing="1.5">10</text>
<rect x="406.58" y="245.76" width="4.94" height="4.54" fill="#fff" stroke="none"/><rect x="413.5" y="245.76" width="4.76" height="4.54" fill="#fff" stroke="none"/>
<text x="433.4" y="240.8" font-size="15.7">4</text>
<text x="524.7" y="248.5" font-size="22" letter-spacing="1.5">10</text>
<rect x="525.28" y="245.76" width="4.94" height="4.54" fill="#fff" stroke="none"/><rect x="532.2" y="245.76" width="4.76" height="4.54" fill="#fff" stroke="none"/>
<text x="552.1" y="240.8" font-size="15.7">6</text>
<text x="643.4" y="248.5" font-size="22" letter-spacing="1.5">10</text>
<rect x="643.98" y="245.76" width="4.94" height="4.54" fill="#fff" stroke="none"/><rect x="650.9" y="245.76" width="4.76" height="4.54" fill="#fff" stroke="none"/>
<text x="670.8" y="240.8" font-size="15.7">8</text>
</g>
<g font-family='"Liberation Sans", sans-serif' fill="#000" stroke="#000" stroke-width="0.3">
<g transform="translate(28.3,168.4) rotate(-90)"><text x="-2.3" y="0" font-size="26.3" font-style="italic">Q</text><rect x="5.5" y="0.9" width="12" height="6" fill="#fff" stroke="none"/><rect x="6.0" y="-0.7" width="3.4" height="2" fill="#fff" stroke="none"/><line x1="8.1" y1="-4.9" x2="14.2" y2="1.3" stroke="#000" stroke-width="1.9"/><text x="19.43" y="4.6" font-size="17.5">i</text><text x="30.45" y="0" font-size="24.5">[</text><text x="41.3" y="0" font-size="24.5">×</text><text x="58.44" y="0" font-size="24.5">1</text><rect x="59.21" y="-2.93" width="5.37" height="4.73" fill="#fff" stroke="none"/><rect x="66.79" y="-2.93" width="5.18" height="4.73" fill="#fff" stroke="none"/><text x="75.34" y="0" font-size="24.5">0</text><text x="90.81" y="-9.4" font-size="17.5">6</text><text x="103.71" y="0" font-size="24.5">]</text></g>
<g transform="translate(27.8,487.8) rotate(-90)"><text x="-0.75" y="0" font-size="24.5" font-style="italic">F</text><text x="22.4" y="0" font-size="24.5" font-style="italic">δ</text><text x="38.74" y="-8.9" font-size="17.5" font-style="italic">0</text><text x="48.01" y="4.4" font-size="17.5">T</text><text x="59.96" y="4.4" font-size="17.5">L</text><text x="72.01" y="4.4" font-size="17.5">S</text><text x="90.75" y="0" font-size="24.5">[</text><text x="99.8" y="0" font-size="24.5">×</text><text x="116.84" y="0" font-size="24.5">1</text><rect x="117.61" y="-2.93" width="5.37" height="4.73" fill="#fff" stroke="none"/><rect x="125.19" y="-2.93" width="5.18" height="4.73" fill="#fff" stroke="none"/><text x="132.64" y="0" font-size="24.5">0</text><text x="149.64" y="-9.8" font-size="17.5">−</text><text x="160.41" y="-9.7" font-size="17.5">6</text><text x="172.71" y="0" font-size="24.5">]</text></g>
<text x="336.07" y="564.8" font-size="24.5" font-style="italic">f</text>
<text x="344.34" y="568.9" font-size="17.5">r</text>
<text x="360.25" y="564.8" font-size="24.5">[</text>
<text transform="translate(369.79,564.8) scale(1.06,1)" font-size="24.5">G</text>
<text x="391.89" y="564.8" font-size="24.5">H</text>
<text transform="translate(410.89,564.8) scale(1.12,1)" font-size="24.5">z</text>
<text x="427.01" y="564.8" font-size="24.5">]</text>
<text x="374.78" y="271.7" font-size="25.5" font-style="italic">n</text>
</g>
<polygon points="370.9,252.3 368.1,252.3 364.3,264.6 368.1,276.9 370.9,276.9 367.1,264.6" fill="#000"/>
<polygon points="393.0,252.3 395.8,252.3 398.6,264.6 395.8,276.9 393.0,276.9 395.8,264.6" fill="#000"/>
</svg>
</div></body></html>
